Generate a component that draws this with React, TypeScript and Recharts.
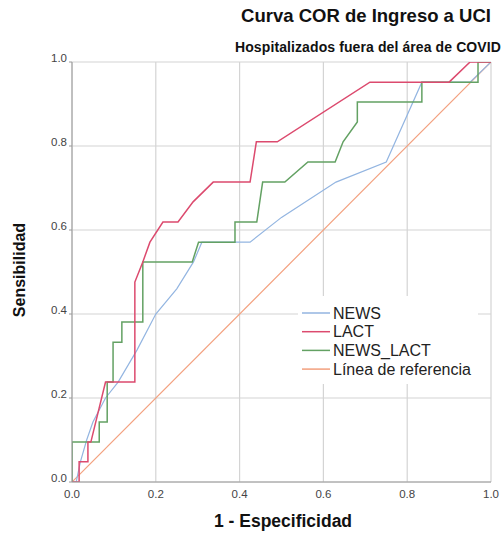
import React from "react";
import { LineChart, Line, XAxis, YAxis, CartesianGrid } from "recharts";

const axisTicks = [0, 0.2, 0.4, 0.6, 0.8, 1.0];

const newsX = [0, 0.01, 0.02, 0.035, 0.05, 0.08, 0.11, 0.155, 0.2, 0.25, 0.29, 0.31, 0.425, 0.5, 0.63, 0.75, 0.835, 0.95, 1];
const newsY = [0, 0.0, 0.048, 0.1, 0.143, 0.2, 0.238, 0.314, 0.4, 0.46, 0.524, 0.571, 0.571, 0.63, 0.714, 0.762, 0.952, 0.952, 1];

const lactX = [0, 0.017, 0.017, 0.038, 0.038, 0.045, 0.08, 0.15, 0.15, 0.169, 0.186, 0.217, 0.253, 0.289, 0.337, 0.425, 0.44, 0.49, 0.711, 0.9, 0.95, 1];
const lactY = [0, 0, 0.048, 0.048, 0.095, 0.095, 0.238, 0.238, 0.476, 0.524, 0.571, 0.619, 0.619, 0.667, 0.714, 0.714, 0.81, 0.81, 0.952, 0.952, 1, 1];

const comboX = [0, 0, 0.065, 0.065, 0.084, 0.084, 0.098, 0.098, 0.119, 0.119, 0.169, 0.169, 0.287, 0.302, 0.389, 0.389, 0.441, 0.455, 0.508, 0.563, 0.628, 0.647, 0.681, 0.681, 0.835, 0.835, 0.969, 0.969, 1];
const comboY = [0, 0.095, 0.095, 0.143, 0.143, 0.238, 0.238, 0.333, 0.333, 0.381, 0.381, 0.524, 0.524, 0.571, 0.571, 0.619, 0.619, 0.714, 0.714, 0.762, 0.762, 0.81, 0.857, 0.905, 0.905, 0.952, 0.952, 1, 1];

const refX = [0, 1];
const refY = [0, 1];

const seriesNames = ["NEWS", "LACT", "NEWS_LACT", "Línea de referencia"];
const seriesColors = ["#93b5e1", "#dc4a6e", "#63a163", "#f3a07e"];

const toPoints = (xs: number[], ys: number[]) => xs.map((x, i) => ({ x, y: ys[i] }));

const seriesData = [
  toPoints(newsX, newsY),
  toPoints(lactX, lactY),
  toPoints(comboX, comboY),
  toPoints(refX, refY),
];

const fontFam = "'Liberation Sans', Arial, sans-serif";

export default function App() {
  const drawOrder = [3, 0, 2, 1];
  return (
    <div style={{ position: "absolute", left: 0, top: 0, width: 502, height: 536, background: "#fff", fontFamily: fontFam }}>
      <LineChart width={502} height={536} margin={{ top: 62, right: 11, bottom: 30, left: 38 }}>
        <CartesianGrid stroke="#d4d4d4" strokeWidth={1.2} horizontalValues={axisTicks} verticalValues={axisTicks} />
        <XAxis
          type="number"
          dataKey="x"
          domain={[0, 1]}
          ticks={axisTicks}
          tickFormatter={(v: number) => v.toFixed(1)}
          height={24}
          stroke="#9a9a9a"
          tickLine={false}
          tick={{ fill: "#444", fontSize: 11.5, fontFamily: fontFam }}
          tickMargin={2}
          allowDataOverflow
        />
        <YAxis
          type="number"
          dataKey="y"
          domain={[0, 1]}
          ticks={axisTicks}
          tickFormatter={(v: number) => v.toFixed(1)}
          width={34}
          stroke="#9a9a9a"
          tickSize={3}
          tick={{ fill: "#444", fontSize: 11.5, fontFamily: fontFam, dy: -4 }}
          tickMargin={2}
          allowDataOverflow
        />
        {drawOrder.map((i) => (
          <Line
            key={seriesNames[i]}
            data={seriesData[i]}
            dataKey="y"
            type="linear"
            stroke={seriesColors[i]}
            strokeWidth={i === 0 || i === 3 ? 1.2 : 1.5}
            dot={false}
            activeDot={false}
            isAnimationActive={false}
            name={seriesNames[i]}
          />
        ))}
      </LineChart>
      <div style={{ position: "absolute", left: 240, top: 5, width: 252, textAlign: "center", fontWeight: "bold", fontSize: 18.5, color: "#111", whiteSpace: "nowrap" }}>
        Curva COR de Ingreso a UCI
      </div>
      <div style={{ position: "absolute", right: 1, top: 39, textAlign: "right", fontWeight: "bold", fontSize: 14, letterSpacing: 0.1, color: "#111", whiteSpace: "nowrap" }}>
        Hospitalizados fuera del área de COVID
      </div>
      <div style={{ position: "absolute", left: 20, top: 270, transform: "translate(-50%, -50%) rotate(-90deg)", fontWeight: "bold", fontSize: 16, color: "#111", whiteSpace: "nowrap" }}>
        Sensibilidad
      </div>
      <div style={{ position: "absolute", left: 283, top: 521, transform: "translate(-50%, -50%)", fontWeight: "bold", fontSize: 17.5, color: "#111", whiteSpace: "nowrap" }}>
        1 - Especificidad
      </div>
      <svg style={{ position: "absolute", left: 298, top: 296 }} width={180} height={88}>
        <rect x={0} y={0} width={180} height={88} fill="#fff" />
        {seriesNames.map((n, i) => (
          <g key={n}>
            <line x1={4} x2={32} y1={17 + i * 18.7} y2={17 + i * 18.7} stroke={seriesColors[i]} strokeWidth={1.5} />
            <text x={35} y={17 + i * 18.7} dy="0.35em" fontSize={16} fill="#222" fontFamily={fontFam}>{n}</text>
          </g>
        ))}
      </svg>
    </div>
  );
}
